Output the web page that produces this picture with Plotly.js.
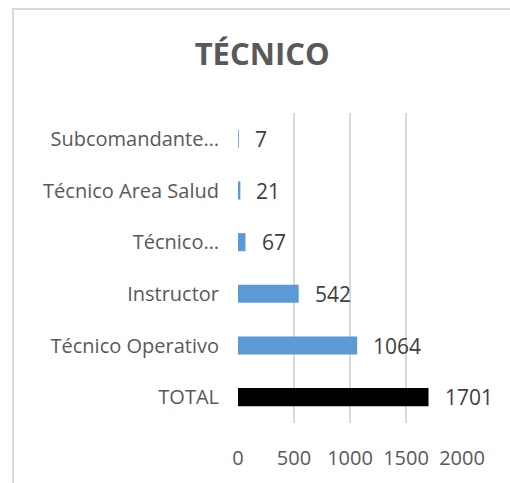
<!DOCTYPE html>
<html>
<head>
<meta charset="utf-8">
<script src="https://cdn.plot.ly/plotly-3.0.1.min.js"></script>
<style>
html,body{margin:0;padding:0;overflow:hidden;background:#fff;}
#frame{position:absolute;left:12px;top:8px;width:700px;height:700px;border:2px solid #d9d9d9;}
#chart{position:absolute;left:0;top:0;width:510px;height:483px;}
</style>
</head>
<body>
<div id="frame"></div>
<div id="chart"></div>
<script>
var categories = ["TOTAL", "Técnico Operativo", "Instructor", "Técnico…", "Técnico Area Salud", "Subcomandante…"];
var values = [1701, 1064, 542, 67, 21, 7];
var barColors = ["#000000", "#5B9BD5", "#5B9BD5", "#5B9BD5", "#5B9BD5", "#5B9BD5"];
var tickVals = [0, 500, 1000, 1500, 2000];

var FONT = "'Open Sans', sans-serif";

var trace = {
  type: "bar",
  orientation: "h",
  y: categories,
  x: values,
  marker: {color: barColors},
  hoverinfo: "none"
};

var annotations = values.map(function(v, i){
  return {
    x: v, y: categories[i], xref: "x", yref: "y",
    text: String(v), showarrow: false,
    xanchor: "left", xshift: 14,
    font: {family: FONT, size: 21, color: "#404040"}
  };
});

var layout = {
  width: 510, height: 483,
  paper_bgcolor: "rgba(0,0,0,0)",
  plot_bgcolor: "rgba(0,0,0,0)",
  margin: {l: 238, r: 48, t: 113, b: 60},
  title: {
    text: "<b>TÉCNICO</b>",
    x: 0.514, xanchor: "center",
    y: 0.888, yanchor: "middle",
    font: {family: FONT, size: 31, color: "#595959"}
  },
  bargap: 0.65,
  showlegend: false,
  xaxis: {
    range: [0, 2000],
    tickvals: tickVals,
    ticktext: tickVals.map(String),
    showgrid: true, gridcolor: "#d9d9d9", gridwidth: 2,
    zeroline: false, showline: false,
    ticks: "", ticklen: 0,
    tickfont: {family: FONT, size: 20, color: "#595959"},
    ticklabelstandoff: 21,
    fixedrange: true
  },
  yaxis: {
    type: "category",
    categoryorder: "array",
    categoryarray: categories,
    showgrid: false, zeroline: false, showline: false,
    ticks: "",
    tickfont: {family: FONT, size: 20, color: "#595959"},
    ticklabelstandoff: 18,
    fixedrange: true
  },
  annotations: annotations
};

Plotly.newPlot("chart", [trace], layout, {displayModeBar: false, staticPlot: true});
</script>
</body>
</html>
